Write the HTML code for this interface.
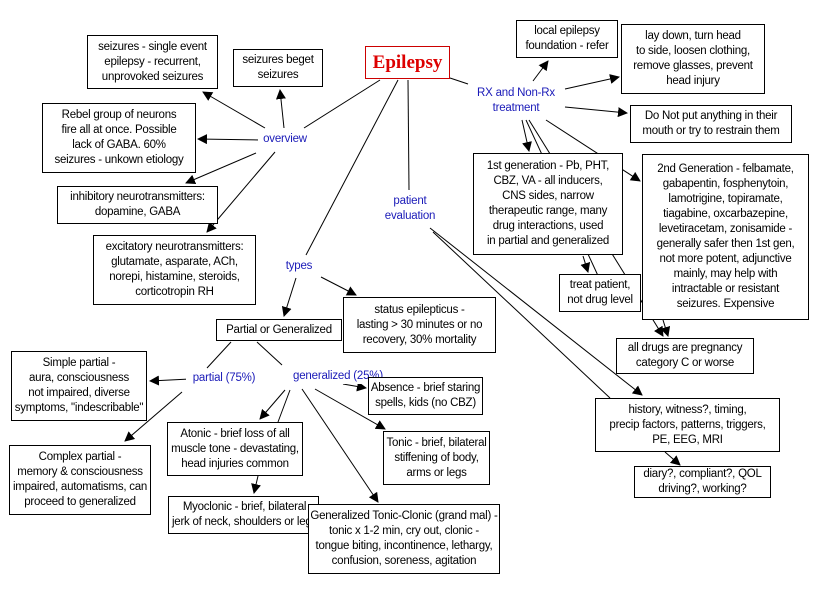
<!DOCTYPE html>
<html><head><meta charset="utf-8"><style>
body{margin:0;background:#fff;width:817px;height:593px;overflow:hidden;position:relative;font-family:"Liberation Sans",Arial,sans-serif;}
svg{position:absolute;left:0;top:0}
.b{position:absolute;box-sizing:border-box;border:1px solid #000;background:#fff;font-size:11.5px;line-height:15px;text-align:center;display:flex;align-items:center;justify-content:center;color:#000;letter-spacing:-0.25px;white-space:nowrap}
.l{position:absolute;font-size:11.5px;line-height:15px;color:#1a1ab8;text-align:center;background:#fff;white-space:nowrap;letter-spacing:-0.2px}
</style></head><body>
<svg width="817" height="593">
<defs><marker id="a" markerWidth="10" markerHeight="10" refX="9" refY="5" orient="auto" markerUnits="userSpaceOnUse"><path d="M0,0 L10,5 L0,10 z" fill="#000"/></marker></defs>
<g stroke="#000" stroke-width="1" fill="none">
<line x1="380" y1="80" x2="304" y2="128"/>
<line x1="398" y1="80" x2="306" y2="255"/>
<line x1="408" y1="80" x2="409" y2="190"/>
<line x1="450" y1="78" x2="468" y2="84"/>
<line x1="265" y1="128" x2="203" y2="92" marker-end="url(#a)"/>
<line x1="284" y1="128" x2="280" y2="90" marker-end="url(#a)"/>
<line x1="260" y1="140" x2="198" y2="139" marker-end="url(#a)"/>
<line x1="256" y1="153" x2="186" y2="183" marker-end="url(#a)"/>
<line x1="275" y1="152" x2="207" y2="232" marker-end="url(#a)"/>
<line x1="296" y1="278" x2="284" y2="316" marker-end="url(#a)"/>
<line x1="321" y1="277" x2="356" y2="295" marker-end="url(#a)"/>
<line x1="533" y1="81" x2="548" y2="61" marker-end="url(#a)"/>
<line x1="565" y1="89" x2="619" y2="77" marker-end="url(#a)"/>
<line x1="565" y1="107" x2="627" y2="113" marker-end="url(#a)"/>
<line x1="522" y1="120" x2="529" y2="151" marker-end="url(#a)"/>
<line x1="526" y1="120" x2="600" y2="280"/>
<line x1="529" y1="120" x2="663" y2="336" marker-end="url(#a)"/>
<line x1="546" y1="120" x2="640" y2="181" marker-end="url(#a)"/>
<line x1="583" y1="256" x2="588" y2="272" marker-end="url(#a)"/>
<line x1="663" y1="320" x2="668" y2="336" marker-end="url(#a)"/>
<line x1="430" y1="228" x2="642" y2="395" marker-end="url(#a)"/>
<line x1="433" y1="232" x2="610" y2="398"/>
<line x1="665" y1="452" x2="680" y2="465" marker-end="url(#a)"/>
<line x1="231" y1="342" x2="207" y2="368"/>
<line x1="257" y1="342" x2="282" y2="365"/>
<line x1="190" y1="379" x2="150" y2="381" marker-end="url(#a)"/>
<line x1="182" y1="392" x2="125" y2="441" marker-end="url(#a)"/>
<line x1="343" y1="384" x2="366" y2="388" marker-end="url(#a)"/>
<line x1="285" y1="390" x2="260" y2="419" marker-end="url(#a)"/>
<line x1="290" y1="390" x2="278" y2="422"/>
<line x1="258" y1="476" x2="254" y2="493" marker-end="url(#a)"/>
<line x1="315" y1="389" x2="385" y2="429" marker-end="url(#a)"/>
<line x1="302" y1="389" x2="378" y2="502" marker-end="url(#a)"/>
</g></svg>

<div class="b" style="left:365px;top:46px;width:85px;height:33px;border-color:#c00;color:#d00;font-family:'Liberation Serif',serif;font-weight:bold;font-size:19px;letter-spacing:0">Epilepsy</div>
<div class="b" style="left:87px;top:35px;width:131px;height:54px">seizures - single event<br>epilepsy - recurrent,<br>unprovoked seizures</div>
<div class="b" style="left:233px;top:49px;width:90px;height:38px">seizures beget<br>seizures</div>
<div class="b" style="left:42px;top:103px;width:154px;height:70px">Rebel group of neurons<br>fire all at once. Possible<br>lack of GABA. 60%<br>seizures - unkown etiology</div>
<div class="b" style="left:57px;top:186px;width:161px;height:38px">inhibitory neurotransmitters:<br>dopamine, GABA</div>
<div class="b" style="left:93px;top:235px;width:163px;height:70px">excitatory neurotransmitters:<br>glutamate, asparate, ACh,<br>norepi, histamine, steroids,<br>corticotropin RH</div>
<div class="l" style="left:258px;top:132px;width:54px">overview</div>
<div class="l" style="left:281px;top:259px;width:36px">types</div>
<div class="l" style="left:377px;top:194px;width:66px">patient<br>evaluation</div>
<div class="l" style="left:470px;top:86px;width:92px">RX and Non-Rx<br>treatment</div>
<div class="b" style="left:516px;top:20px;width:102px;height:38px">local epilepsy<br>foundation - refer</div>
<div class="b" style="left:621px;top:24px;width:144px;height:70px">lay down, turn head<br>to side, loosen clothing,<br>remove glasses, prevent<br>head injury</div>
<div class="b" style="left:630px;top:105px;width:162px;height:38px">Do Not put anything in their<br>mouth or try to restrain them</div>
<div class="b" style="left:473px;top:153px;width:150px;height:102px">1st generation - Pb, PHT,<br>CBZ, VA - all inducers,<br>CNS sides, narrow<br>therapeutic range, many<br>drug interactions, used<br>in partial and generalized</div>
<div class="b" style="left:642px;top:154px;width:167px;height:166px">2nd Generation - felbamate,<br>gabapentin, fosphenytoin,<br>lamotrigine, topiramate,<br>tiagabine, oxcarbazepine,<br>levetiracetam, zonisamide -<br>generally safer then 1st gen,<br>not more potent, adjunctive<br>mainly, may help with<br>intractable or resistant<br>seizures. Expensive</div>
<div class="b" style="left:559px;top:274px;width:82px;height:38px">treat patient,<br>not drug level</div>
<div class="b" style="left:616px;top:338px;width:138px;height:36px">all drugs are pregnancy<br>category C or worse</div>
<div class="b" style="left:595px;top:398px;width:185px;height:54px">history, witness?, timing,<br>precip factors, patterns, triggers,<br>PE, EEG, MRI</div>
<div class="b" style="left:634px;top:466px;width:137px;height:32px">diary?, compliant?, QOL<br>driving?, working?</div>
<div class="b" style="left:343px;top:297px;width:153px;height:56px">status epilepticus -<br>lasting &gt; 30 minutes or no<br>recovery, 30% mortality</div>
<div class="b" style="left:216px;top:319px;width:126px;height:22px">Partial or Generalized</div>
<div class="l" style="left:186px;top:371px;width:76px">partial (75%)</div>
<div class="l" style="left:286px;top:369px;width:104px">generalized (25%)</div>
<div class="b" style="left:11px;top:351px;width:136px;height:70px">Simple partial -<br>aura, consciousness<br>not impaired, diverse<br>symptoms, "indescribable"</div>
<div class="b" style="left:9px;top:445px;width:142px;height:70px">Complex partial -<br>memory &amp; consciousness<br>impaired, automatisms, can<br>proceed to generalized</div>
<div class="b" style="left:167px;top:422px;width:136px;height:54px">Atonic - brief loss of all<br>muscle tone - devastating,<br>head injuries common</div>
<div class="b" style="left:168px;top:496px;width:151px;height:38px;justify-content:flex-start;padding-left:3px;overflow:hidden">Myoclonic - brief, bilateral<br>jerk of neck, shoulders or legs</div>
<div class="b" style="left:368px;top:377px;width:115px;height:38px">Absence - brief staring<br>spells, kids (no CBZ)</div>
<div class="b" style="left:383px;top:431px;width:107px;height:54px">Tonic - brief, bilateral<br>stiffening of body,<br>arms or legs</div>
<div class="b" style="left:308px;top:504px;width:192px;height:70px">Generalized Tonic-Clonic (grand mal) -<br>tonic x 1-2 min, cry out, clonic -<br>tongue biting, incontinence, lethargy,<br>confusion, soreness, agitation</div>
</body></html>
